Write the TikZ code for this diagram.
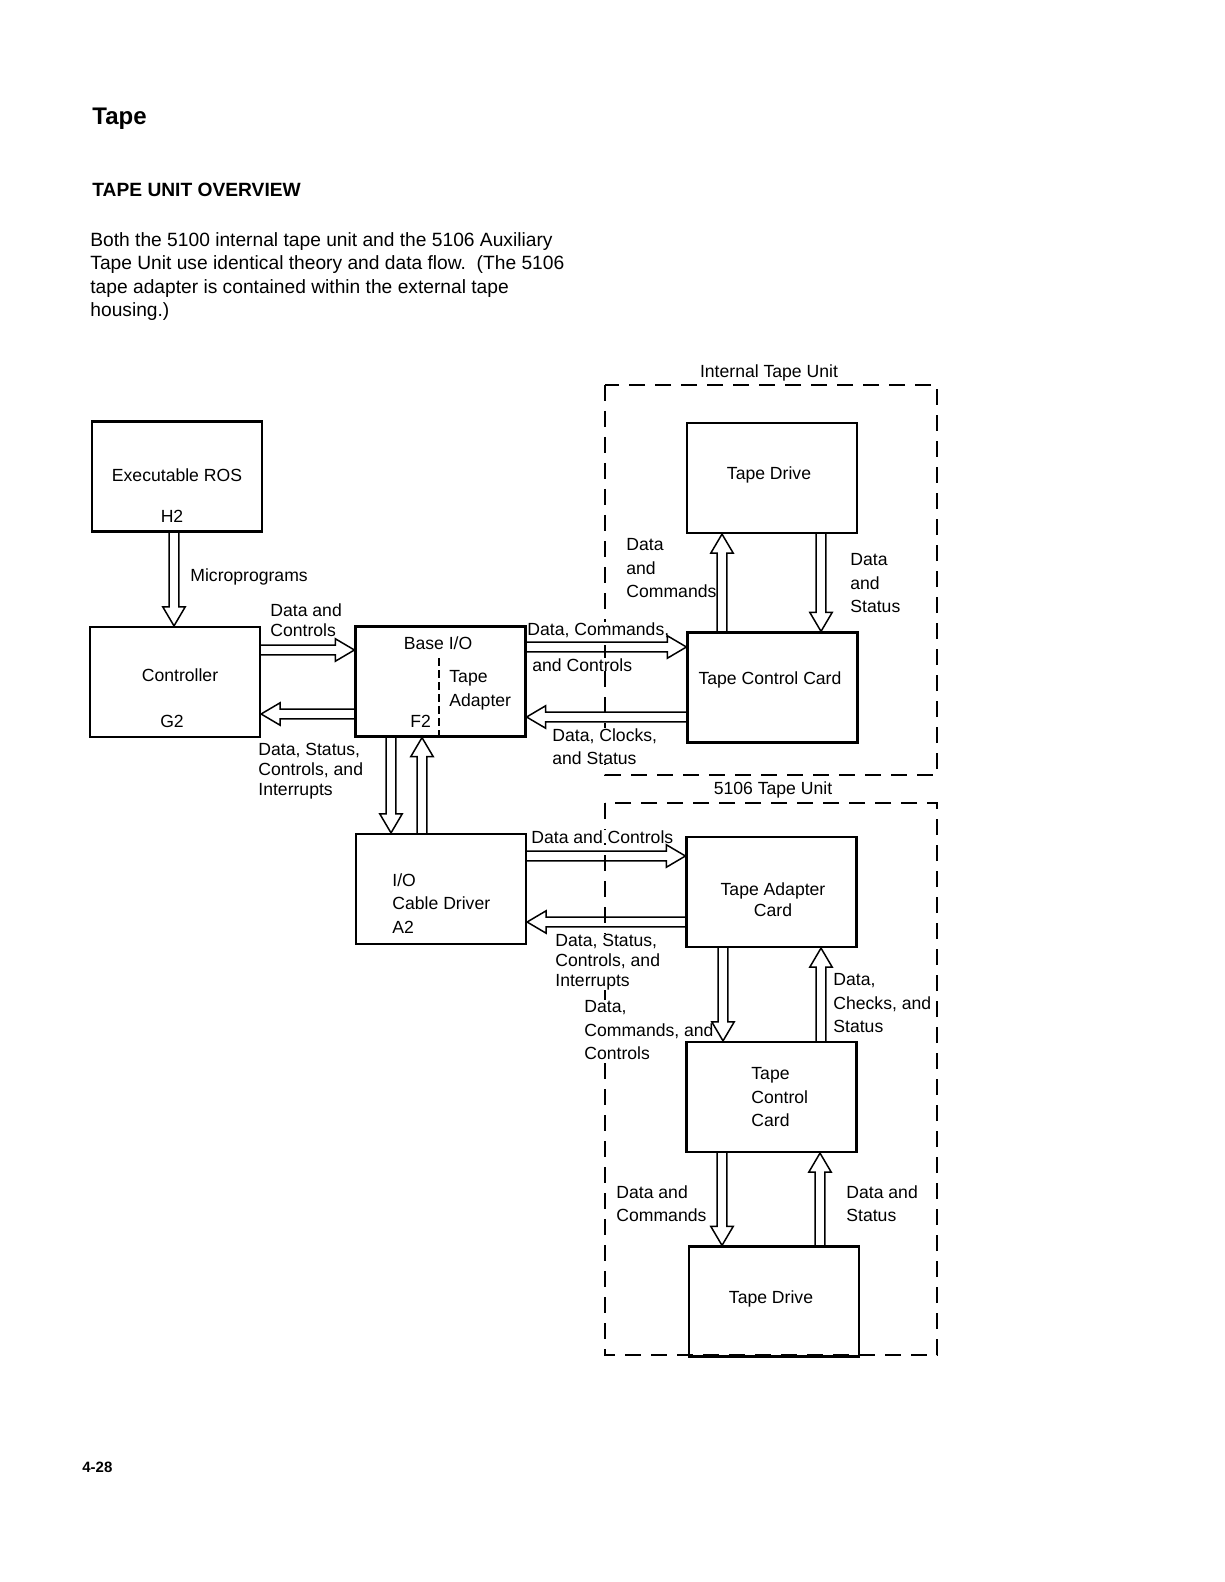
\documentclass[tikz,border=0pt]{standalone}
\usepackage{fontspec}
\setmainfont{Liberation Sans}
\usetikzlibrary{
    calc,
    positioning,
}
\tikzset{
    >=latex,
    fat/.style={line width=0.75pt,to path={
        ($(\tikztostart)!2.4pt!90:(\tikztotarget)$)
        -- ($(\tikztotarget)!9.5pt!(\tikztostart)!2.4pt!-90:(\tikztostart)$)
        -- ($(\tikztotarget)!9.5pt!(\tikztostart)!5.6pt!-90:(\tikztostart)$)
        -- (\tikztotarget)
        -- ($(\tikztotarget)!9.5pt!(\tikztostart)!5.6pt!90:(\tikztostart)$)
        -- ($(\tikztotarget)!9.5pt!(\tikztostart)!2.4pt!90:(\tikztostart)$)
        -- ($(\tikztostart)!2.4pt!-90:(\tikztotarget)$)
    }}
}

\begin{document}
\begin{tikzpicture}[
    x=0.5pt,y=-0.5pt,
    blk/.style={draw,line width=1.1pt,minimum width=85pt,minimum height=55pt,inner sep=0pt},
    lbl/.style={font=\fontsize{8.8}{10}\selectfont,align=left,inner sep=0pt,fill=white},
    lblw/.style={font=\fontsize{8.8}{11.8}\selectfont,align=left,inner sep=0pt,fill=white},
    housing/.style={dash pattern=on 8pt off 5pt,line width=0.8pt}
    ]
    \fill[white] (0,0) rectangle (1224,1582);
    \useasboundingbox (0,0) rectangle (1224,1582);

    \node[anchor=base west,inner sep=0pt,font=\fontsize{12}{14}\selectfont\bfseries] (title) at (92,125) {Tape};
    \node[anchor=base west,inner sep=0pt,font=\fontsize{9.6}{11}\selectfont\bfseries] (section) at (92,197) {TAPE UNIT OVERVIEW};
    \node[anchor=north west,inner sep=0pt,align=left,font=\fontsize{9.6}{11.75}\selectfont] (intro) at (90,232)
        {Both the 5100 internal tape unit and the 5106 Auxiliary\\Tape Unit use identical theory and data flow.\ \ (The 5106\\tape adapter is contained within the external tape\\housing.)};
    \node[anchor=base west,inner sep=0pt,font=\fontsize{7.5}{9}\selectfont\bfseries] (pageno) at (82,1472) {4-28};

    \draw[housing] (605,385) rectangle (937,775);
    \node[lbl] (inttitle) at (769,373) {Internal Tape Unit};
    \draw[housing] (605,803) rectangle (937,1355);
    \node[lbl] (auxtitle) at (773,790) {5106 Tape Unit};

    \node[lbl,anchor=north west] (microlbl) at (190,568) {Microprograms};
    \node[lbl,anchor=north west] (dclbl) at (270,603) {Data and\\Controls};
    \node[lbl,anchor=north west] (dsclbl) at (258,743) {Data, Status,\\Controls, and\\Interrupts};
    \node[lbl,anchor=north west] (dcclbl) at (527,622) {Data, Commands,};
    \node[lbl,anchor=north west] (dcclbl2) at (532,658) {and Controls};
    \node[lblw,anchor=north west] (dcslbl) at (552,728) {Data, Clocks,\\[-0.3pt]and Status};
    \node[lblw,anchor=north west] (upcmdlbl) at (626,538) {Data\\and\\Commands};
    \node[lblw,anchor=north west] (dnstatlbl) at (850,553) {Data\\and\\Status};
    \node[lbl,anchor=north west] (cablbl) at (531,830) {Data and Controls};
    \node[lbl,anchor=north west] (cabretlbl) at (555,934) {Data, Status,\\Controls, and\\Interrupts};
    \node[lblw,anchor=north west] (taclbl) at (584,1000) {Data,\\Commands, and\\Controls};
    \node[lblw,anchor=north west] (tcc2ret) at (833,973) {Data,\\Checks, and\\Status};
    \node[lblw,anchor=north west] (drvcmd) at (616,1185) {Data and\\Commands};
    \node[lblw,anchor=north west] (drvstat) at (846,1185) {Data and\\Status};

    \node[blk] (rom) at (177,476.5) {};
    \node[blk] (ctrl) at (175,682) {};
    \node[blk] (bio) at (440.5,681.5) {};
    \node[blk] (drv1) at (772,478) {};
    \node[blk] (tcc1) at (772.5,687.5) {};
    \node[blk] (cab) at (441,889) {};
    \node[blk] (tac) at (771.5,892) {};
    \node[blk] (tcc2) at (771.5,1097) {};
    \node[blk] (drv2) at (774,1301.5) {};

    \draw[dash pattern=on 4pt off 2pt,line width=0.6pt] (bio.south -| 439,0) -- (439,657);

    \node[lbl] (romname) at (177,475) {Executable ROS};
    \node[lbl] (romid) at (172,516) {H2};
    \node[lbl] (ctrlname) at (180,675) {Controller};
    \node[lbl] (ctrlid) at (172,721) {G2};
    \node[lbl] (bioname) at (438,643) {Base I/O};
    \node[lblw,anchor=north west] (biotape) at (449,670) {Tape\\Adapter};
    \node[lbl,anchor=north west] (bioid) at (410,715) {F2};
    \node[lbl] (drv1name) at (769,475) {Tape Drive};
    \node[lbl] (tcc1name) at (770,680) {Tape Control Card};
    \node[lblw,anchor=north west] (cabname) at (392,873) {I/O\\Cable Driver\\A2};
    \node[lblw,anchor=north,align=center] (tacname) at (773,882) {Tape Adapter\\[-1pt]Card};
    \node[lblw,anchor=north west] (tcc2name) at (751,1067) {Tape\\Control\\Card};
    \node[lbl] (drv2name) at (771,1299) {Tape Drive};

    \draw[fat] (rom.south -| 174,0) to (ctrl.north -| 174,0);
    \draw[fat] (ctrl.east |- 0,650) to (bio.west |- 0,650);
    \draw[fat] (bio.west |- 0,714) to (ctrl.east |- 0,714);
    \draw[fat] (bio.east |- 0,647) to (tcc1.west |- 0,647);
    \draw[fat] (tcc1.west |- 0,717) to (bio.east |- 0,717);
    \draw[fat] (bio.south -| 391,0) to (cab.north -| 391,0);
    \draw[fat] (cab.north -| 422,0) to (bio.south -| 422,0);
    \draw[fat] (cab.east |- 0,856) to (tac.west |- 0,856);
    \draw[fat] (tac.west |- 0,922) to (cab.east |- 0,922);
    \draw[fat] (tcc1.north -| 722,0) to (drv1.south -| 722,0);
    \draw[fat] (drv1.south -| 821,0) to (tcc1.north -| 821,0);
    \draw[fat] (tac.south -| 723,0) to (tcc2.north -| 723,0);
    \draw[fat] (tcc2.north -| 821,0) to (tac.south -| 821,0);
    \draw[fat] (tcc2.south -| 722,0) to (drv2.north -| 722,0);
    \draw[fat] (drv2.north -| 820,0) to (tcc2.south -| 820,0);
\end{tikzpicture}
\end{document}
